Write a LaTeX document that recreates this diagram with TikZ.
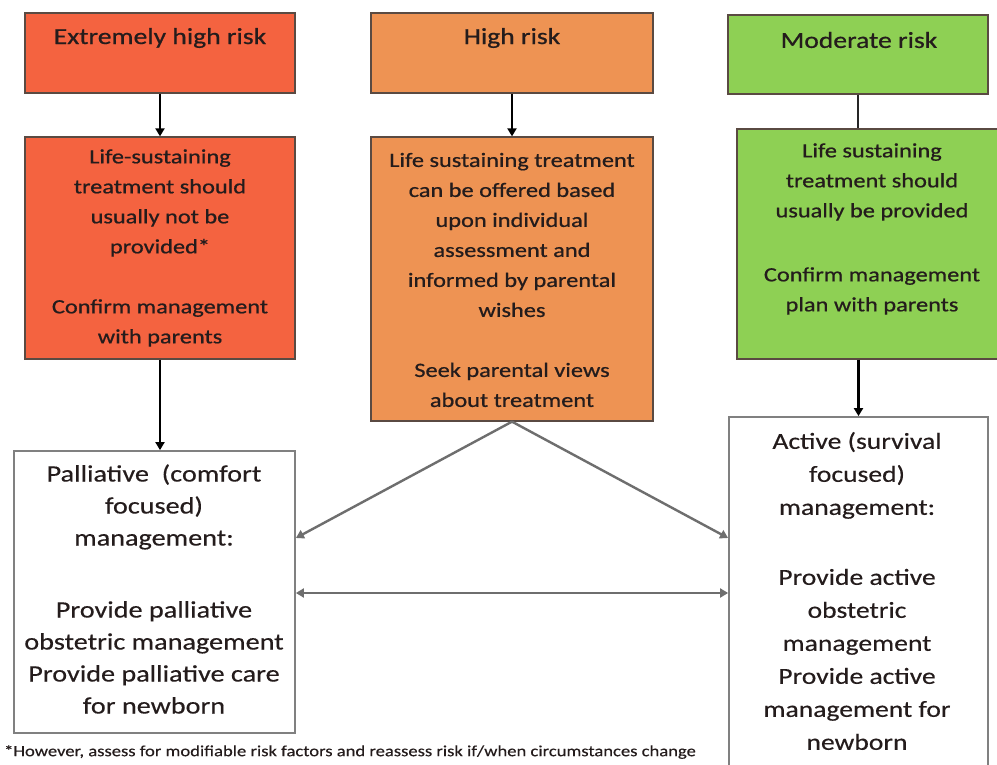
\documentclass[tikz,border=0pt]{standalone}
\usepackage{fontspec}
\setmainfont{Carlito}[FakeStretch=1.2]
\newfontfamily\heavyfam{Carlito}[FakeStretch=1.2, FakeBold=0.7]
\newfontfamily\midfam{Carlito}[FakeStretch=1.2, FakeBold=0.35]
\usetikzlibrary{arrows.meta}
\definecolor{cExt}{HTML}{F46340}
\definecolor{cHigh}{HTML}{EE9353}
\definecolor{cMod}{HTML}{8ED054}
\definecolor{cBord}{HTML}{5A4A42}
\definecolor{cGray}{HTML}{6E6E6E}
\definecolor{cWBord}{HTML}{808080}
\definecolor{cTxt}{HTML}{241C1C}
\begin{document}
\begin{tikzpicture}[x=1pt,y=-1pt,
  cbox/.style={draw=cBord, line width=1.3pt, inner sep=0pt},
  wbox/.style={draw=cWBord, line width=1.8pt, fill=white, inner sep=0pt},
  head/.style={text=cTxt, font=\heavyfam\fontsize{23}{28}\selectfont, inner sep=0pt},
  body/.style={text=cTxt, font=\heavyfam\fontsize{20.3}{30}\selectfont, align=center, inner sep=0pt},
  big/.style={text=cTxt, font=\midfam\fontsize{23.5}{32}\selectfont, align=center, inner sep=0pt},
  blk/.style={draw=black, line width=2.2pt, -{Triangle[length=8pt,width=9pt]}},
  plain/.style={draw=black!85, line width=2.4pt},
  gry/.style={draw=cGray, line width=2.4pt, -{Triangle[length=8pt,width=9pt]}},
  gry2/.style={draw=cGray, line width=2.4pt, {Triangle[length=8pt,width=9pt]}-{Triangle[length=8pt,width=9pt]}},
  foot/.style={text=cTxt, font=\midfam\fontsize{15.5}{18}\selectfont, inner sep=0pt}
]
\clip (0,0) rectangle (997,765);
\fill[white] (0,0) rectangle (997,765);

% top boxes
\node[cbox, fill=cExt, minimum width=270pt, minimum height=80pt] (r1) at (160,53) {};
\node[cbox, fill=cHigh, minimum width=282pt, minimum height=80pt] (r2) at (512,53) {};
\node[cbox, fill=cMod, minimum width=260pt, minimum height=79pt] (r3) at (858,54.5) {};
\node[head] (r1t) at (160,38) {Extremely high risk};
\node[head] (r2t) at (512,38) {High risk};
\node[head] (r3t) at (859,40) {Moderate risk};

% middle boxes
\node[cbox, fill=cExt, minimum width=270pt, minimum height=222pt] (t1) at (160,248) {};
\node[cbox, fill=cHigh, minimum width=282pt, minimum height=284pt] (t2) at (512,279) {};
\draw[plain] (r3.south) -- (r3.south |- 0,130);
\node[cbox, fill=cMod, minimum width=270pt, minimum height=230pt] (t3) at (872,244) {};

\node[body] (t1t) at (160,248) {Life-sustaining\\treatment should\\usually not be\\provided*\\[30pt]Confirm management\\with parents};
\node[body] (t2t) at (512,280) {Life sustaining treatment\\can be offered based\\upon individual\\assessment and\\informed by parental\\wishes\\[30pt]Seek parental views\\about treatment};
\node[body] (t3t) at (872,229) {Life sustaining\\treatment should\\usually be provided\\[34pt]Confirm management\\plan with parents};

% bottom boxes
\node[wbox, minimum width=281pt, minimum height=282pt] (pal) at (154.5,592) {};
\node[wbox, minimum width=259pt, minimum height=358pt] (act) at (858.5,596) {};
\node[big] (palt) at (154,589) {Palliative\ \ (comfort\\focused)\\management:\\[40pt]Provide palliative\\obstetric management\\Provide palliative care\\for newborn};
\node[big, font=\midfam\fontsize{23}{33}\selectfont] (actt) at (857,591) {Active (survival\\focused)\\management:\\[37pt]Provide active\\obstetric\\management\\Provide active\\management for\\newborn};

% connectors
\draw[blk] (r1) -- (t1);
\draw[blk] (r2) -- (t2);
\draw[blk] (t1.south) -- (t1.south |- pal.north);
\draw[blk] (t3.south -| act.north) -- (act.north);
\draw[gry] (t2.south) -- ([yshift=54pt]pal.east);
\draw[gry] (t2.south) -- ([yshift=58pt]act.west);
\draw[gry2] ([yshift=-1pt]pal.east) -- ([yshift=-1pt]pal.east -| act.west);

% footnote
\node[foot, anchor=west] (fn) at (4,752) {*However, assess for modifiable risk factors and reassess risk if/when circumstances change};
\end{tikzpicture}
\end{document}
